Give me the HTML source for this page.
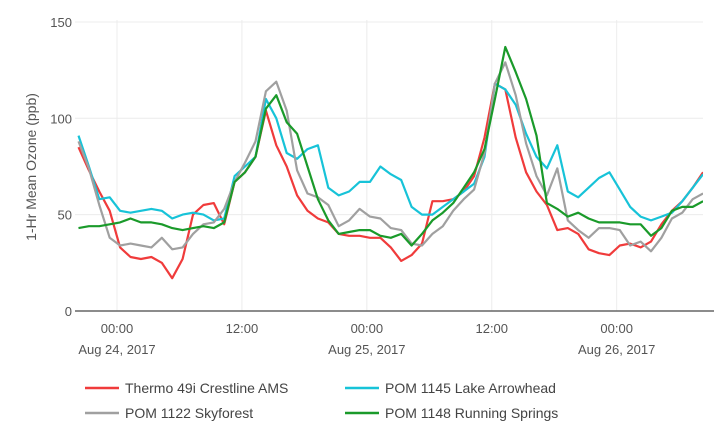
<!DOCTYPE html>
<html><head><meta charset="utf-8"><style>
html,body{margin:0;padding:0;background:#fff;}
svg{display:block;font-family:"Liberation Sans",sans-serif;}
</style></head><body>
<svg id="chart" width="714" height="443" viewBox="0 0 714 443"></svg>
<script>
const yTicks = [0, 50, 100, 150];
const xTickHours = [0, 12, 24, 36, 48];
const xTickTimes = ["00:00", "12:00", "00:00", "12:00", "00:00"];
const xTickDates = ["Aug 24, 2017", "", "Aug 25, 2017", "", "Aug 26, 2017"];
const startHour = -3.7;
const seriesNames = ["Thermo 49i Crestline AMS", "POM 1145 Lake Arrowhead", "POM 1122 Skyforest", "POM 1148 Running Springs"];
const crestline = [85,73,62,52,33,28,27,28,25,17,27,50,55,56,45,67,72,80,104,86,75,60,52,48,46,40,39,39,38,38,33,26,29,35,57,57,58,62,70,90,118,115,90,72,62,55,42,43,40,32,30,29,34,35,33,36,45,52,57,64,72];
const lakeArrowhead = [91,75,58,59,52,51,52,53,52,48,50,51,50,47,48,70,75,80,110,100,82,79,84,86,64,60,62,67,67,75,71,68,54,50,50,54,58,62,66,80,118,115,107,92,80,74,86,62,59,64,69,72,63,54,49,47,49,51,57,64,71];
const skyforest = [88,74,55,38,34,35,34,33,38,32,33,40,45,46,53,67,77,88,114,119,104,73,61,59,55,44,47,53,49,48,43,42,35,34,40,44,52,58,63,82,118,129,112,87,70,60,74,47,42,38,43,43,42,34,36,31,38,48,51,58,61];
const runningSprings = [43,44,44,45,46,48,46,46,45,43,42,43,44,43,46,67,72,80,105,112,98,92,75,58,47,40,41,42,42,39,38,40,34,40,47,51,56,64,72,84,110,137,124,110,91,56,53,49,51,48,46,46,46,45,45,39,43,52,54,54,57];
const seriesColors = ["#f03b3b", "#17c3d8", "#a0a0a0", "#1a9a2a"];

const NS = "http://www.w3.org/2000/svg";
const svg = document.getElementById("chart");
const X0 = 117, PX_PER_H = 10.41, PLOT_L = 75, PLOT_R = 703;
const Y0 = 311, PX_PER_V = 1.927;
function xs(h){ return X0 + h * PX_PER_H; }
function ys(v){ return Y0 - v * PX_PER_V; }
function mk(tag, attrs){ const e = document.createElementNS(NS, tag); for (const k in attrs) e.setAttribute(k, attrs[k]); svg.appendChild(e); return e; }

// grid
xTickHours.forEach((h, i) => {
  const g = mk("line", {x1: xs(h), x2: xs(h), y1: 20, y2: Y0, stroke: "#ececec", "stroke-width": 1});
  
  
  const t = mk("text", {x: xs(h), y: 333, "text-anchor": "middle", "font-size": 13, fill: "#555"});
  t.textContent = xTickTimes[i];
  
  
  if (xTickDates[i]) {
    const d = mk("text", {x: xs(h), y: 354, "text-anchor": "middle", "font-size": 13, fill: "#555"});
    d.textContent = xTickDates[i];
    
    
  }
});
yTicks.forEach(v => {
  if (v > 0) {
    const g = mk("line", {x1: PLOT_L, x2: PLOT_R, y1: ys(v), y2: ys(v), stroke: "#ececec", "stroke-width": 1});
    
    
  }
  const t = mk("text", {x: 72, y: ys(v) + 5, "text-anchor": "end", "font-size": 13, fill: "#555"});
  t.textContent = v;
  
  
});
const zl = mk("line", {x1: PLOT_L, x2: 714, y1: Y0, y2: Y0, stroke: "#666", "stroke-width": 1.5});



const yt = mk("text", {x: 0, y: 0, transform: "translate(36,167) rotate(-90)", "text-anchor": "middle", "font-size": 14, fill: "#555"});
yt.textContent = "1-Hr Mean Ozone (ppb)";



// clip
const defs = mk("defs", {});
const cp = document.createElementNS(NS, "clipPath"); cp.setAttribute("id", "clip");
const cr = document.createElementNS(NS, "rect");
cr.setAttribute("x", PLOT_L); cr.setAttribute("y", 10); cr.setAttribute("width", PLOT_R - PLOT_L); cr.setAttribute("height", 310);
cp.appendChild(cr); defs.appendChild(cp);

const allSeries = [crestline, lakeArrowhead, skyforest, runningSprings];
const drawOrder = [0, 1, 2, 3];
const seriesKeys = ["series-crestline", "series-lake-arrowhead", "series-skyforest", "series-running-springs"];
drawOrder.forEach(si => {
  const vals = allSeries[si];
  const pts = vals.map((v, i) => xs(startHour + i).toFixed(1) + "," + ys(v).toFixed(1)).join(" ");
  const p = mk("polyline", {points: pts, fill: "none", stroke: seriesColors[si], "stroke-width": 2.2, "stroke-linejoin": "round", "clip-path": "url(#clip)"});
  
  
});

// legend
const legPos = [[85, 388], [345, 388], [85, 413], [345, 413]];
seriesNames.forEach((n, i) => {
  const [lx, ly] = legPos[i];
  const l = mk("line", {x1: lx, x2: lx + 34, y1: ly, y2: ly, stroke: seriesColors[i], "stroke-width": 2.5});
  
  
  const t = mk("text", {x: lx + 40, y: ly + 5, "font-size": 14, fill: "#444"});
  t.textContent = n;
  
  
});
</script>
</body></html>
